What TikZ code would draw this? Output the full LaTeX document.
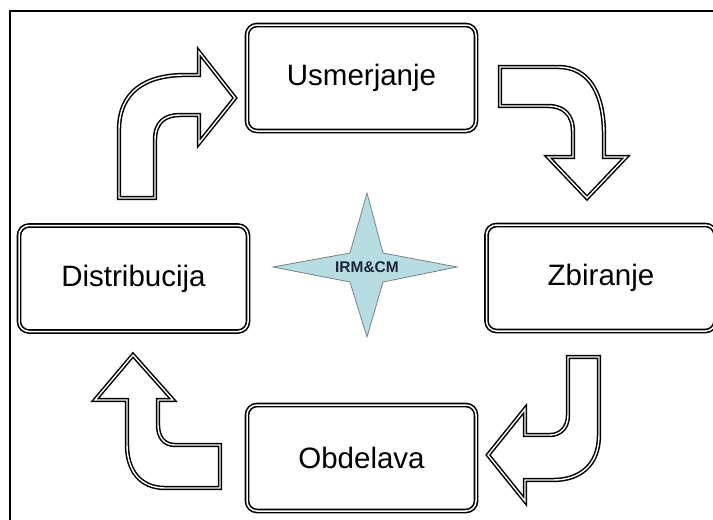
\documentclass[tikz,border=0pt]{standalone}
\usepackage{fontspec}
\setmainfont{Liberation Sans}
\usepackage{tikz}
\usetikzlibrary{positioning}

\definecolor{starfill}{RGB}{183,221,226}
\definecolor{stargray}{RGB}{120,130,132}
\definecolor{starnavy}{RGB}{28,36,60}

\tikzset{
  stage/.style = {draw, double, line width=1.6pt, double distance=1.5pt, rounded corners=10pt,
                  minimum width=229pt, minimum height=106pt, inner sep=0pt,
                  font=\fontsize{29.5}{34}\selectfont},
  blockarrow/.style = {draw, double, line width=1.5pt, double distance=1.4pt, line join=miter},
}

\begin{document}
\begin{tikzpicture}[x=1pt, y=-1pt]
\useasboundingbox (0,0) rectangle (713,520);
\draw[line width=2pt] (10,520) -- (10,11) -- (713,11);

\node[stage] (usm) at (361.5,78) {Usmerjanje};
\node[stage] (zbi) at (601,278) {Zbiranje};
\node[stage] (obd) at (361.5,458) {Obdelava};
\node[stage] (dist) at (133.5,278.5) {Distribucija};

% star in the middle
\coordinate (c) at (367,267);
\draw[fill=starfill, draw=stargray, line width=0.8pt]
  (367,193) -- (383,253) -- (457,267) -- (383,282) -- (367,337)
  -- (350,282) -- (273,267) -- (350,253) -- cycle;
\node[font=\bfseries\fontsize{15.5}{17}\selectfont, text=starnavy] (irm) at (c) {IRM\&CM};

% dist -> usm
\draw[blockarrow] (119,198) -- (119,130) .. controls (119,92) and (145,75) .. (185,75)
  -- (199,75) -- (199,52) -- (235,98) -- (199,143) -- (199,115) -- (180,115)
  .. controls (165,115) and (155,122) .. (155,140) -- (155,198) -- cycle;
% usm -> zbi
\draw[blockarrow] (500,67) -- (558,67) .. controls (590,67) and (604,95) .. (604,135)
  -- (604,157) -- (626,157) -- (587,198) -- (548,157) -- (573,157) -- (573,132)
  .. controls (573,115) and (564,106) .. (548,106) -- (500,106) -- cycle;
% zbi -> obd
\draw[blockarrow] (568,357) -- (599,357) -- (599,435) .. controls (599,465) and (580,480) .. (553,480)
  -- (525,480) -- (525,501) -- (488,455) -- (525,409) -- (525,435) -- (550,435)
  .. controls (560,435) and (568,428) .. (568,415) -- cycle;
% obd -> dist
\draw[blockarrow] (220,445) -- (220,488) -- (165,488) .. controls (140,488) and (127,470) .. (127,445)
  -- (127,400) -- (95,400) -- (133,355) -- (173,400) -- (158,400) -- (158,425)
  .. controls (158,437) and (164,445) .. (175,445) -- cycle;
\end{tikzpicture}
\end{document}
